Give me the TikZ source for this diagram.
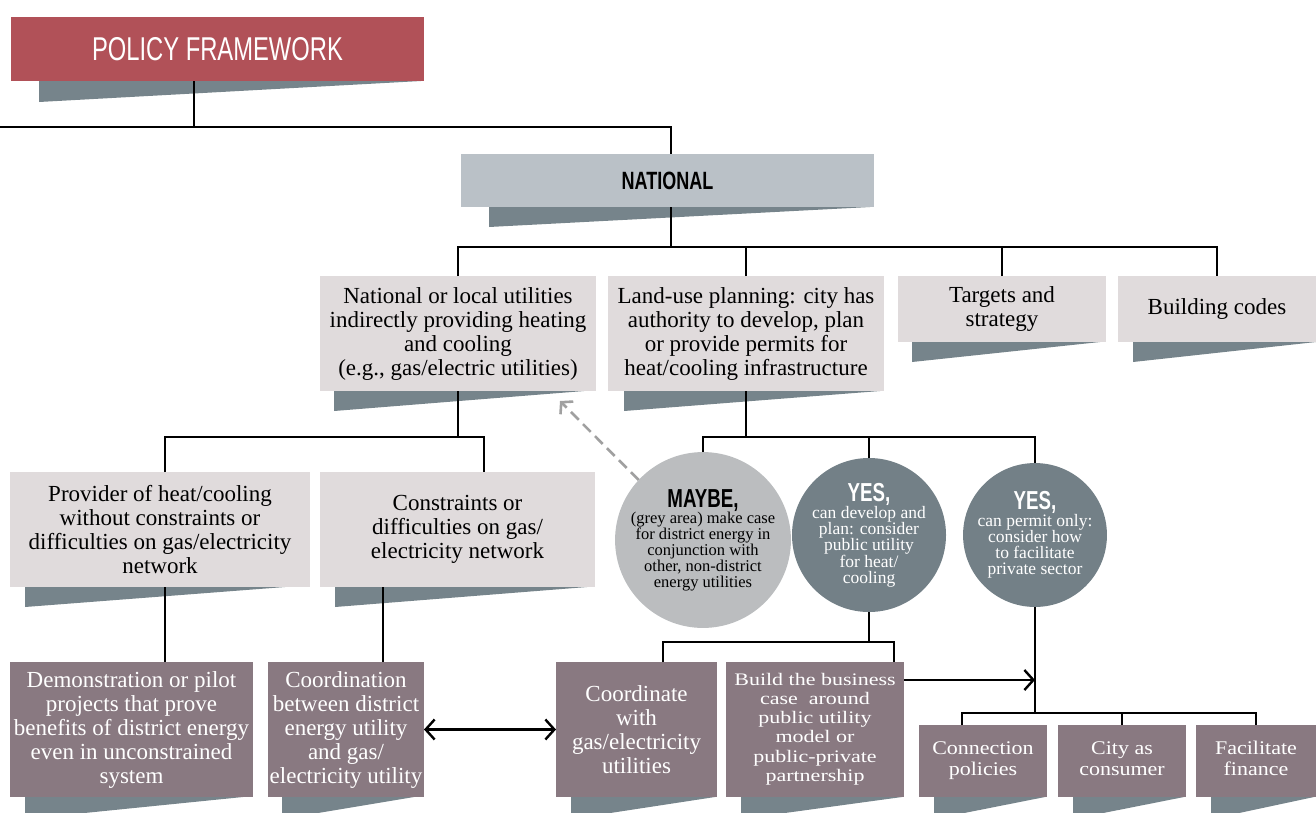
\documentclass[tikz,border=0pt]{standalone}
\usepackage{fontspec}
\setmainfont{Liberation Serif}
\newfontfamily\condsans[FakeStretch=0.72]{Liberation Sans}
\usetikzlibrary{arrows.meta}
\definecolor{redbox}{HTML}{B15158}
\definecolor{shadowc}{HTML}{76848B}
\definecolor{natbox}{HTML}{BAC1C7}
\definecolor{lightbox}{HTML}{E0DBDC}
\definecolor{mauve}{HTML}{897981}
\definecolor{maybec}{HTML}{BBBDBF}
\definecolor{yesc}{HTML}{738087}
\definecolor{dashc}{HTML}{A0A0A0}
\newcommand\shd[4]{\fill[shadowc] ([xshift=#2]#1.south west) -- ([xshift=-#3]#1.south east) -- ([xshift=#2,yshift=-#4]#1.south west) -- cycle;}
\begin{document}
\begin{tikzpicture}[x=1pt,y=-1pt,
  box/.style={anchor=north west, inner sep=0pt, outer sep=0pt, align=center, font=\fontsize{23}{24}\selectfont},
  lbox/.style={box, fill=lightbox, text=black},
  mbox/.style={box, fill=mauve, text=white},
  circ/.style={circle, inner sep=0pt, outer sep=0pt, align=center},
  conn/.style={line width=2.4pt, black},
  barb/.style={line width=2.4pt, black},
  dasharr/.style={line width=2.6pt, dashc, dash pattern=on 11pt off 6pt, -{Straight Barb[length=8pt,width=18pt]}}
]
\useasboundingbox (0,0) rectangle (1316,812);
% nodes
\node[box, fill=redbox, text=white, minimum width=413pt, minimum height=64pt, font=\condsans\fontsize{33}{33}\selectfont] (title) at (11,17) {POLICY FRAMEWORK};
\node[box, fill=natbox, text=black, minimum width=413pt, minimum height=53pt, font=\condsans\bfseries\fontsize{25}{25}\selectfont] (NAT) at (461,154) {NATIONAL};
\node[lbox, minimum width=276pt, minimum height=115pt] (A) at (320,276) {National or local utilities\\indirectly providing heating\\and cooling\\(e.g., gas/electric utilities)};
\node[lbox, minimum width=276pt, minimum height=115pt] (B) at (608,276) {Land-use planning: city has\\authority to develop, plan\\or provide permits for\\heat/cooling infrastructure};
\node[lbox, minimum width=208pt, minimum height=66pt] (C) at (898,276) {Targets and\\strategy};
\node[lbox, minimum width=198pt, minimum height=66pt] (D) at (1118,276) {Building codes};
\node[lbox, minimum width=300pt, minimum height=115pt] (E) at (10,472) {Provider of heat/cooling\\without constraints or\\difficulties on gas/electricity\\network};
\node[lbox, minimum width=275pt, minimum height=115pt] (F) at (320,472) {Constraints or\\difficulties on gas/\\electricity network};
\node[mbox, minimum width=243pt, minimum height=135pt] (G) at (10,662) {Demonstration or pilot\\projects that prove\\benefits of district energy\\even in unconstrained\\system};
\node[mbox, minimum width=156pt, minimum height=135pt] (H) at (268,662) {Coordination\\between district\\energy utility\\and gas/\\electricity utility};
\node[mbox, minimum width=161pt, minimum height=135pt] (I) at (556,662) {Coordinate\\with\\gas/electricity\\utilities};
\node[mbox, minimum width=178pt, minimum height=135pt, font=\fontsize{22}{24}\selectfont] (J) at (726,662) {\scalebox{1}[0.8]{\begin{tabular}{@{}c@{}}Build the business\\case \ around\\public utility\\model or\\public-private\\partnership\end{tabular}}};
\node[mbox, minimum width=128pt, minimum height=72pt, font=\fontsize{22}{24}\selectfont] (K) at (919,725) {\scalebox{1}[0.88]{\begin{tabular}{@{}c@{}}Connection\\policies\end{tabular}}};
\node[mbox, minimum width=128pt, minimum height=72pt, font=\fontsize{22}{24}\selectfont] (L) at (1058,725) {\scalebox{1}[0.88]{\begin{tabular}{@{}c@{}}City as\\consumer\end{tabular}}};
\node[mbox, minimum width=120pt, minimum height=72pt, font=\fontsize{22}{24}\selectfont] (M) at (1196,725) {\scalebox{1}[0.88]{\begin{tabular}{@{}c@{}}Facilitate\\finance\end{tabular}}};
\node[circ, fill=maybec, text=black, minimum size=140pt, font=\fontsize{16.5}{16}\selectfont] (MAYBE) at (703,540) {{\condsans\bfseries\fontsize{26}{24}\selectfont MAYBE,}\\(grey area) make case\\for district energy in\\conjunction with\\other, non-district\\energy utilities};
\node[circ, fill=yesc, text=white, minimum size=124pt, font=\fontsize{17.5}{16}\selectfont] (Y1) at (869,535) {{\condsans\bfseries\fontsize{26}{24}\selectfont YES,}\\can develop and\\plan: consider\\public utility\\for heat/\\cooling};
\node[circ, fill=yesc, text=white, minimum size=124pt, font=\fontsize{17.5}{16}\selectfont] (Y2) at (1035,535) {{\condsans\bfseries\fontsize{26}{24}\selectfont YES,}\\can permit only:\\consider how\\to facilitate\\private sector};
% shadows
\begin{scope}
\clip (0,0) rectangle (1316,812);
\shd{title}{28pt}{3pt}{21pt}
\shd{NAT}{28pt}{4pt}{20pt}
\shd{A}{14pt}{12pt}{20pt}
\shd{B}{16pt}{4pt}{20pt}
\shd{C}{14pt}{6pt}{20pt}
\shd{D}{15pt}{0pt}{20pt}
\shd{E}{15pt}{25pt}{20pt}
\shd{F}{15pt}{8pt}{20pt}
\shd{G}{15pt}{10pt}{22pt}
\shd{H}{14pt}{10pt}{22pt}
\shd{I}{15pt}{2pt}{22pt}
\shd{J}{15pt}{2pt}{22pt}
\shd{K}{15pt}{2pt}{22pt}
\shd{L}{15pt}{2pt}{22pt}
\shd{M}{15pt}{2pt}{22pt}
\end{scope}
% connectors
\coordinate (le) at (0,127);
\draw[conn] ([xshift=-23.5pt]title.south) |- (le);
\draw[conn] (le) -| ([xshift=3.5pt]NAT.north);
\coordinate (b1) at ([xshift=3.5pt,yshift=-40pt]NAT.south);
\draw[conn] ([xshift=3.5pt]NAT.south) -- (b1);
\draw[conn] (A.north) |- (D.north |- b1) -- (D.north);
\draw[conn] (B.north) -- (B.north |- b1);
\draw[conn] (C.north) -- (C.north |- b1);
\coordinate (b2) at ([yshift=-46pt]A.south);
\coordinate (Etop) at ([xshift=5pt]E.north);
\coordinate (Ftop) at ([xshift=26.5pt]F.north);
\draw[conn] (A.south) -- (b2);
\draw[conn] (Etop) |- (Ftop |- b2) -- (Ftop);
\coordinate (b3) at ([yshift=-46pt]B.south);
\draw[conn] (B.south) -- (b3);
\draw[conn] (MAYBE.north) |- (Y2.north |- b3) -- (Y2.north);
\draw[conn] (Y1.north) -- (Y1.north |- b3);
\coordinate (Ebot) at ([xshift=5pt]E.south);
\coordinate (Fbot) at ([xshift=-74.5pt]F.south);
\draw[conn] (Ebot) -- (Ebot |- G.north);
\draw[conn] (Fbot) -- (Fbot |- H.north);
\coordinate (b4) at ([yshift=-30pt]Y1.south);
\coordinate (Itop) at ([xshift=26.5pt]I.north);
\coordinate (Jtop) at ([xshift=79pt]J.north);
\draw[conn] (Y1.south) -- (b4);
\draw[conn] (Itop) |- (Jtop |- b4) -- (Jtop);
\coordinate (b5) at ([yshift=-106pt]Y2.south);
\coordinate (Ktop) at ([xshift=-21pt]K.north);
\draw[conn] (Y2.south) -- (b5);
\draw[conn] (Ktop) |- (M.north |- b5) -- (M.north);
\draw[conn] (L.north) -- (L.north |- b5);
\coordinate (jout) at ([yshift=49.5pt]J.east);
\draw[barb, -{Straight Barb[length=9pt,width=20pt]}] (jout) -- (jout -| Y2.south);
\draw[barb, {Straight Barb[length=9pt,width=20pt]}-{Straight Barb[length=9pt,width=20pt]}] (H.east) -- (I.west);
\coordinate (dend) at (560,401);
\draw[dasharr] (MAYBE.137) -- (dend);
\end{tikzpicture}
\end{document}
